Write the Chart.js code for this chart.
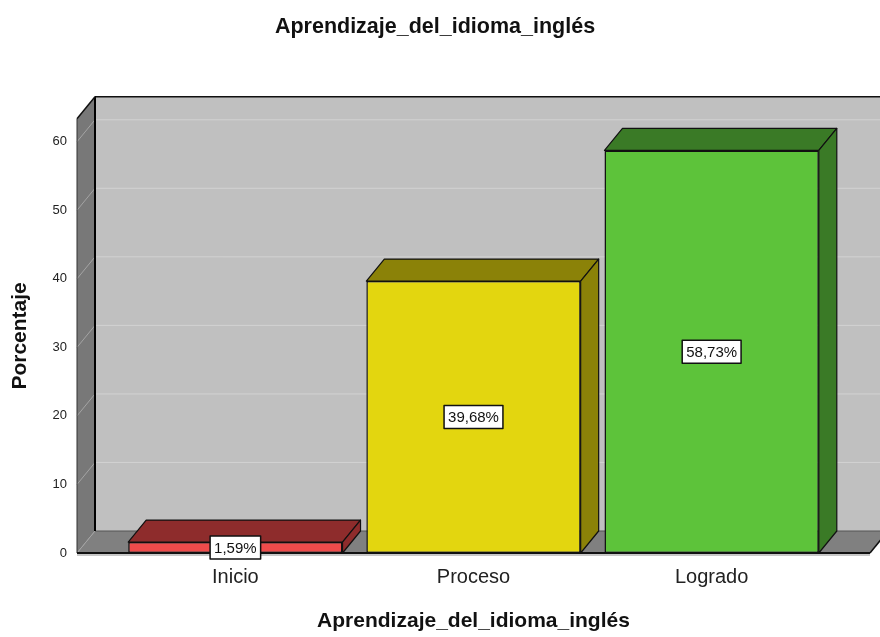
<!DOCTYPE html>
<html>
<head>
<meta charset="utf-8">
<script src="https://cdn.jsdelivr.net/npm/chart.js@4.4.1/dist/chart.umd.min.js"></script>
<style>
  html, body { margin: 0; padding: 0; background: #fff; }
  #wrap { width: 880px; height: 637px; }
</style>
</head>
<body>
<div id="wrap"><canvas id="chart"></canvas></div>
<script>
// --- Data ---
const categories = ['Inicio', 'Proceso', 'Logrado'];
const percentages = [1.59, 39.68, 58.73];
const chartTitle = 'Aprendizaje_del_idioma_inglés';
const yTitle = 'Porcentaje';

// --- Colors (SPSS style) ---
const FRONT_COLORS = ['#ee4b4b', '#e3d60f', '#5dc33a'];
const SHADE_COLORS = ['#8e2c2c', '#8b8208', '#3a7a26'];
const WALL = {
  back: '#c0c0c0',
  side: '#787878',
  floor: '#808080',
  grid: '#d2d2d2',
  sideGrid: '#a4a4a4',
  edge: '#111111'
};

// depth of the 3D box, in pixels
const DEPTH_X = 18;
const DEPTH_Y = -22;

Chart.defaults.font.family = '"Liberation Sans", Arial, sans-serif';

function poly(ctx, pts, fill, stroke, lw) {
  ctx.beginPath();
  ctx.moveTo(pts[0][0], pts[0][1]);
  for (let i = 1; i < pts.length; i++) ctx.lineTo(pts[i][0], pts[i][1]);
  ctx.closePath();
  if (fill) { ctx.fillStyle = fill; ctx.fill(); }
  if (stroke) { ctx.strokeStyle = stroke; ctx.lineWidth = lw || 1; ctx.stroke(); }
}

function line(ctx, x1, y1, x2, y2, color, lw) {
  ctx.beginPath();
  ctx.moveTo(x1, y1);
  ctx.lineTo(x2, y2);
  ctx.strokeStyle = color;
  ctx.lineWidth = lw;
  ctx.stroke();
}

function fmtPct(v) {
  return v.toFixed(2).replace('.', ',') + '%';
}

// --- 3D box: walls, floor, bar tops/sides, value labels ---
const box3d = {
  id: 'box3d',
  beforeDatasetsDraw(chart) {
    const { ctx, chartArea: a, scales: { y } } = chart;
    const L = a.left, R = a.right, T = a.top, B = a.bottom;
    const dx = DEPTH_X, dy = DEPTH_Y;
    ctx.save();
    poly(ctx, [[L + dx, T + dy], [R + dx, T + dy], [R + dx, B + dy], [L + dx, B + dy]], WALL.back);
    poly(ctx, [[L, T], [L + dx, T + dy], [L + dx, B + dy], [L, B]], WALL.side);
    poly(ctx, [[L, B], [L + dx, B + dy], [R + dx, B + dy], [R, B]], WALL.floor);

    y.ticks.forEach(t => {
      const py = y.getPixelForValue(t.value);
      if (t.value > 0) line(ctx, L + dx, py + dy, R + dx, py + dy, WALL.grid, 1);
      line(ctx, L, py, L + dx, py + dy, WALL.sideGrid, 1);
    });

    line(ctx, L + dx, B + dy, R + dx, B + dy, '#555', 1);
    line(ctx, L + dx, T + dy, R + dx, T + dy, WALL.edge, 1.5);
    line(ctx, L + dx, T + dy, L + dx, B + dy, '#000', 2);
    line(ctx, L, T, L + dx, T + dy, WALL.edge, 1.5);
    line(ctx, L, T, L, B, '#333', 1);
    line(ctx, R, B, R + dx, B + dy, WALL.edge, 1.5);
    line(ctx, L, B + 2, R, B + 2, '#b4b4b4', 1.5);
    line(ctx, L, B, R, B, WALL.edge, 2);
    ctx.restore();
  },
  afterDatasetsDraw(chart) {
    const { ctx } = chart;
    const meta = chart.getDatasetMeta(0);
    const dx = DEPTH_X, dy = DEPTH_Y;
    ctx.save();
    ctx.lineJoin = 'round';
    meta.data.forEach((bar, i) => {
      const { x, y, base, width } = bar.getProps(['x', 'y', 'base', 'width'], true);
      const l = x - width / 2, r = x + width / 2;
      poly(ctx, [[l, y], [l + dx, y + dy], [r + dx, y + dy], [r, y]], SHADE_COLORS[i], '#111', 1.2);
      poly(ctx, [[r, y], [r + dx, y + dy], [r + dx, base + dy], [r, base]], SHADE_COLORS[i], '#111', 1.2);
    });

    ctx.font = '15px "Liberation Sans", Arial, sans-serif';
    ctx.textAlign = 'center';
    ctx.textBaseline = 'middle';
    meta.data.forEach((bar, i) => {
      const { x, y, base } = bar.getProps(['x', 'y', 'base'], true);
      const mid = (y + base) / 2;
      const text = fmtPct(percentages[i]);
      const w = ctx.measureText(text).width + 8;
      const h = 23;
      ctx.fillStyle = '#fff';
      ctx.fillRect(x - w / 2, mid - h / 2, w, h);
      ctx.strokeStyle = '#111';
      ctx.lineWidth = 1.5;
      ctx.strokeRect(x - w / 2, mid - h / 2, w, h);
      ctx.fillStyle = '#111';
      ctx.fillText(text, x, mid + 1);
    });
    ctx.restore();
  }
};

new Chart(document.getElementById('chart'), {
  type: 'bar',
  data: {
    datasets: [{
      data: percentages.map((v, i) => ({ x: i, y: v })),
      backgroundColor: FRONT_COLORS,
      borderColor: '#111',
      borderWidth: 1.5,
      borderSkipped: false,
      categoryPercentage: 0.9,
      barPercentage: 1
    }]
  },
  options: {
    responsive: true,
    maintainAspectRatio: false,
    animation: false,
    layout: { padding: { top: 0, right: 10, bottom: 0, left: 0 } },
    plugins: {
      legend: { display: false },
      tooltip: { enabled: false },
      title: {
        display: true,
        text: chartTitle,
        color: '#111',
        font: { size: 21.5, weight: 'bold' },
        padding: { top: 14, bottom: 79 }
      }
    },
    scales: {
      x: {
        type: 'linear',
        offset: false,
        min: -0.665,
        max: 2.665,
        grid: { display: false, drawTicks: false },
        border: { display: false },
        ticks: {
          stepSize: 1,
          includeBounds: false,
          autoSkip: false,
          maxRotation: 0,
          callback: v => categories[v] ?? '',
          font: { size: 20 },
          color: '#222',
          padding: 12
        },
        title: {
          display: true,
          text: chartTitle,
          color: '#111',
          font: { size: 21, weight: 'bold' },
          padding: { top: 0, bottom: 3 }
        },
        afterFit: s => { s.height = 84; }
      },
      y: {
        min: 0,
        max: 63.35,
        grid: { display: false, drawTicks: false },
        border: { display: false },
        ticks: {
          stepSize: 10,
          includeBounds: false,
          font: { size: 13 },
          color: '#222',
          padding: 10
        },
        title: {
          display: true,
          text: yTitle,
          color: '#111',
          font: { size: 21, weight: 'bold' },
          padding: { top: 8, bottom: 0 }
        },
        afterFit: s => { s.width = 77; }
      }
    }
  },
  plugins: [box3d]
});
</script>
</body>
</html>
